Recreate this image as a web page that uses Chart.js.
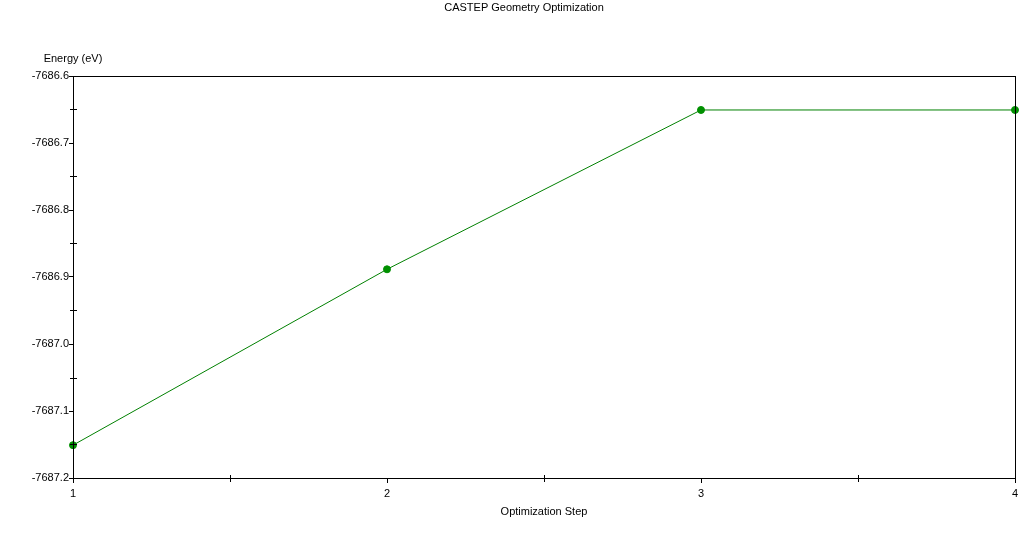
<!DOCTYPE html>
<html>
<head>
<meta charset="utf-8">
<script src="https://cdn.jsdelivr.net/npm/chart.js@4"></script>
<style>
  html, body { margin: 0; padding: 0; background: #fff; }
  #wrap { width: 1035px; height: 533px; }
</style>
</head>
<body>
<div id="wrap"><canvas id="geoChart"></canvas></div>
<script>
const steps = [1, 2, 3, 4];
const energies = [-7687.151, -7686.8885, -7686.6507, -7686.6507];
const yMin = -7687.2;
const yMax = -7686.6;

const FONT = '"Liberation Sans", Arial, sans-serif';

// 제목, 축 이름, 테두리, 보조 눈금
const decorPlugin = {
  id: 'decor',
  afterDraw(chart) {
    const ctx = chart.ctx;
    const area = chart.chartArea;
    const xs = chart.scales.x;
    const ys = chart.scales.y;
    ctx.save();
    ctx.strokeStyle = '#000';
    ctx.lineWidth = 1;
    ctx.strokeRect(area.left + 0.5, area.top + 0.5, area.right - area.left, area.bottom - area.top);

    ctx.beginPath();
    for (let v = 1.5; v < 4; v += 1) {
      const px = Math.round(xs.getPixelForValue(v)) + 0.5;
      ctx.moveTo(px, area.bottom - 3);
      ctx.lineTo(px, area.bottom + 4);
    }
    for (let i = 1; i < 12; i += 2) {
      const py = Math.round(ys.getPixelForValue(yMin + i * 0.05)) + 0.5;
      ctx.moveTo(area.left - 3, py);
      ctx.lineTo(area.left + 4, py);
    }
    ctx.stroke();

    ctx.fillStyle = '#000';
    ctx.font = '11px ' + FONT;
    ctx.textAlign = 'center';
    ctx.textBaseline = 'middle';
    ctx.fillText('CASTEP Geometry Optimization', 524, 8);
    ctx.fillText('Energy (eV)', 73, 59);
    ctx.restore();
  }
};

window.onload = function() {
  const ctx = document.getElementById('geoChart').getContext('2d');
  new Chart(ctx, {
    type: 'line',
    data: {
      datasets: [{
        label: 'Energy',
        data: steps.map((s, i) => ({ x: s, y: energies[i] })),
        borderColor: '#008000',
        borderWidth: 1,
        backgroundColor: '#009000',
        pointBackgroundColor: '#009000',
        pointBorderColor: '#009000',
        pointRadius: 3.5,
        tension: 0,
        clip: false
      }]
    },
    options: {
      responsive: true,
      maintainAspectRatio: false,
      animation: false,
      layout: { padding: { top: 76, right: 20, left: 0, bottom: 0 } },
      plugins: { legend: { display: false }, title: { display: false }, tooltip: { enabled: false } },
      scales: {
        x: {
          type: 'linear',
          min: 1,
          max: 4,
          afterFit(scale) { scale.height = 55; },
          border: { display: true, color: '#000', width: 1 },
          grid: { drawOnChartArea: false, drawTicks: true, tickLength: 5, color: '#000' },
          ticks: { stepSize: 1, color: '#000', font: { family: FONT, size: 11 }, padding: 4, maxRotation: 0 },
          title: { display: true, text: 'Optimization Step', color: '#000', font: { family: FONT, size: 11 }, padding: { top: 4, bottom: 14 } }
        },
        y: {
          type: 'linear',
          min: yMin,
          max: yMax,
          afterFit(scale) { scale.width = 73; },
          border: { display: true, color: '#000', width: 1 },
          grid: { drawOnChartArea: false, drawTicks: true, tickLength: 4, color: '#000' },
          ticks: {
            stepSize: 0.1,
            color: '#000',
            font: { family: FONT, size: 11 },
            padding: 0,
            callback: v => v.toFixed(1)
          }
        }
      }
    },
    plugins: [decorPlugin]
  });
};
</script>
</body>
</html>
